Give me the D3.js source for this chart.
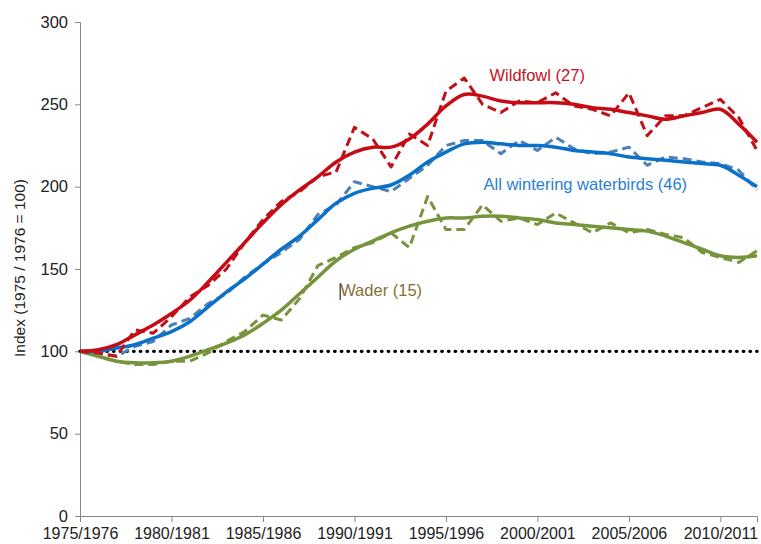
<!DOCTYPE html>
<html lang="en">
<head>
  <meta charset="UTF-8">
  <title>Waterbird indices</title>
  <style>
    body { margin:0; background:#fff; overflow:hidden; }
    #chart { display:block; }
    text { font-family: "Liberation Sans", Arial, sans-serif; }
  </style>
</head>
<body>
  <svg id="chart" width="761" height="544"></svg>
  <script src="https://d3js.org/d3.v7.min.js"></script>
  <script>
    // winter seasons 1975/1976 .. 2012/2013
    const seasons = d3.range(1975, 2013).map(y => `${y}/${y + 1}`);
    const tickSeasons = ['1975/1976', '1980/1981', '1985/1986', '1990/1991', '1995/1996', '2000/2001', '2005/2006', '2010/2011'];
    const yTicks = [0, 50, 100, 150, 200, 250, 300];

    // annual index (dashed) and smoothed trend (solid)
    const wildfowlAnnual = [100, 99, 97, 113, 111, 121, 133, 140, 150, 166, 180, 191, 197, 206, 209, 236, 229, 212, 232, 225,
      258, 266, 250, 245, 252, 251, 257, 249, 247, 243, 257, 231, 243, 243, 248, 253, 242, 222];
    const wildfowlTrend = [100, 101, 104, 110, 116, 123, 131, 142, 154, 166, 178, 189, 198, 206, 215, 221, 224, 224, 229, 238,
      249, 256, 255, 252, 251, 251, 251, 250, 248, 247, 245, 243, 241, 243, 245, 247, 238, 227];
    const allAnnual = [100, 99, 97, 103, 106, 116, 120, 129, 135, 145, 153, 160, 168, 183, 189, 203, 200, 197, 205, 213,
      225, 228, 228, 220, 228, 222, 230, 223, 220, 221, 224, 213, 218, 217, 215, 214, 210, 198];
    const allTrend = [100, 100, 102, 104, 108, 112, 118, 127, 136, 144, 153, 162, 170, 180, 190, 196, 199, 201, 207, 215,
      221, 226, 227, 226, 225, 225, 224, 222, 221, 220, 218, 217, 216, 215, 214, 213, 207, 200];
    const waderAnnual = [100, 97, 94, 92, 92, 94, 94, 99, 106, 112, 122, 119, 132, 152, 157, 163, 166, 172, 163, 194,
      174, 174, 189, 179, 181, 177, 184, 178, 172, 178, 172, 174, 171, 169, 160, 157, 154, 161];
    const waderTrend = [100, 97, 94, 93, 93, 94, 97, 101, 105, 110, 117, 125, 135, 145, 155, 162, 167, 172, 176, 179,
      181, 181, 182, 182, 181, 180, 178, 177, 176, 175, 174, 173, 170, 166, 162, 158, 157, 158];
    const baseline = seasons.map(() => 100);

    const labels = [
      { text: 'Wildfowl (27)', season: '1997/1998', dx: 7, value: 264, color: '#c8101e' },
      { text: 'All wintering waterbirds (46)', season: '1997/1998', dx: 1, value: 198, color: '#2a7fcf' },
      { text: 'Wader (15)', season: '1989/1990', dx: 4, value: 133.5, color: '#857036' }
    ];

    const svg = d3.select('#chart');
    const margin = { top: 22, right: 4, bottom: 28, left: 80 };
    const width = 761 - margin.left - margin.right;
    const height = 544 - margin.top - margin.bottom;
    const g = svg.append('g').attr('transform', `translate(${margin.left},${margin.top})`);

    const x = d3.scalePoint().domain(seasons).range([0, width]);
    const y = d3.scaleLinear().domain([0, 300]).range([height, 0]);

    // axes
    const yAxis = g.append('g').call(d3.axisLeft(y).tickValues(yTicks).tickSize(5).tickPadding(7));
    const xAxis = g.append('g').attr('transform', `translate(0,${height})`)
      .call(d3.axisBottom(x).tickValues(tickSeasons).tickSize(6).tickPadding(6));
    [xAxis, yAxis].forEach(a => {
      a.select('.domain').attr('stroke', '#868686');
      a.selectAll('.tick line').attr('stroke', '#868686');
      a.selectAll('.tick text').attr('fill', '#222')
        .style('font-family', '"Liberation Sans", Arial, sans-serif');
    });
    xAxis.selectAll('.tick text').style('font-size', '16px');
    yAxis.selectAll('.tick text').style('font-size', '16.5px');

    g.append('text')
      .attr('transform', `translate(${25 - margin.left},${246}) rotate(-90)`)
      .attr('text-anchor', 'middle')
      .attr('fill', '#222')
      .style('font-size', '15.5px')
      .text('Index (1975 / 1976 = 100)');

    const straight = d3.line().x((d, i) => x(seasons[i])).y(d => y(d));
    const smooth = d3.line().x((d, i) => x(seasons[i])).y(d => y(d)).curve(d3.curveCatmullRom.alpha(0.5));

    // reference line at 100
    g.append('path').datum(baseline).attr('d', straight)
      .attr('fill', 'none').attr('stroke', '#000').attr('stroke-width', 3.4)
      .attr('stroke-linecap', 'round').attr('stroke-dasharray', '0.5 6.2');

    const series = [
      { annual: waderAnnual, trend: waderTrend, dash: '#77933c', solid: '#77933c' },
      { annual: allAnnual, trend: allTrend, dash: '#4f7fb8', solid: '#0a70c8' },
      { annual: wildfowlAnnual, trend: wildfowlTrend, dash: '#c0101a', solid: '#c80a14' }
    ];

    series.forEach(s => {
      g.append('path').datum(s.annual).attr('d', straight)
        .attr('fill', 'none').attr('stroke', s.dash).attr('stroke-width', 3)
        .attr('stroke-dasharray', '9 5').attr('stroke-linejoin', 'round');
      g.append('path').datum(s.trend).attr('d', smooth)
        .attr('fill', 'none').attr('stroke', s.solid).attr('stroke-width', 3.5);
    });

    // series labels
    labels.forEach(l => {
      g.append('text')
        .attr('x', x(l.season) + l.dx)
        .attr('y', y(l.value))
        .attr('fill', l.color)
        .style('font-size', '16.5px')
        .text(l.text);
    });

    // stray text cursor before "Wader"
    const wader = labels[2];
    const wx = x(wader.season) + wader.dx;
    g.append('line')
      .attr('x1', wx).attr('x2', wx)
      .attr('y1', y(wader.value) - 13).attr('y2', y(wader.value) + 4)
      .attr('stroke', '#000').attr('stroke-width', 1);
  </script>
</body>
</html>
